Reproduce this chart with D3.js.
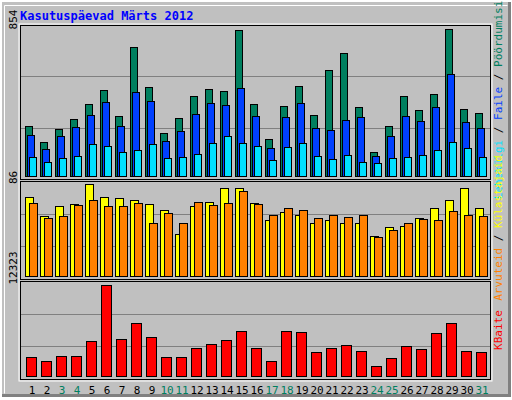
<!DOCTYPE html>
<html><head><meta charset="utf-8">
<script src="https://cdn.jsdelivr.net/npm/d3@7"></script>
<style>body{margin:0;background:#fff}svg{display:block}</style>
</head><body>
<script>
const days = d3.range(1,32);
const weekend = [3,4,10,11,17,18,24,25,31];
const hits  = [292,198,274,332,420,501,350,752,519,251,338,466,507,496,851,420,216,408,525,356,618,717,402,140,292,466,385,478,854,391,367];
const files = [239,157,233,286,356,431,292,490,437,204,262,361,426,414,513,350,163,344,426,280,268,326,344,117,233,350,321,402,595,315,280];
const pages = [111,82,105,117,187,175,140,152,187,105,111,128,192,233,192,175,93,169,192,117,99,122,82,76,105,111,122,152,198,163,111];
const visitors = [74,56,65,67,86,74,73,71,67,62,39,65,69,82,82,68,52,60,57,50,52,50,50,37,46,47,54,64,71,82,64];
const hosts = [68,54,56,66,71,65,65,68,50,59,50,69,66,68,79,67,57,64,62,54,57,55,57,36,43,50,53,52,61,57,56];
const kbytes = [2520,1980,2655,2655,4675,12323,4945,7100,5215,2520,2520,3735,4275,4810,6025,3735,1980,6025,5890,3195,3735,4140,3330,1310,2385,4005,3600,5755,7100,3330,3195];
const maxLabels = ["854","86","12323"];

const W=512,H=400;
const svg=d3.select("body").append("svg").attr("width",W).attr("height",H);
svg.append("rect").attr("width",W).attr("height",H).attr("fill","#fff");
svg.append("rect").attr("x",2).attr("y",2).attr("width",506).attr("height",392).attr("fill","#c0c0c0");
svg.append("path").attr("d","M4.5,393.5V5.5H507.5").attr("stroke","#fff").attr("fill","none");
svg.append("path").attr("d","M2,395.5H509.5V2").attr("stroke","#808080").attr("stroke-width",3).attr("fill","none");

svg.append("text").attr("x",20).attr("y",20).text("Kasutuspäevad Märts 2012")
  .attr("font-family","DejaVu Sans Mono").attr("font-weight","bold").attr("font-size",12).attr("fill","#0000ff");

const x = d3.scaleLinear().domain([1,32]).range([25,490]);
const PL=20, PR=491;
svg.append("rect").attr("x",PL-1).attr("y",24).attr("width",PR-PL+2).attr("height",357).attr("fill","none").attr("stroke","#fff");

function panel(y0,y1,maxv,top){
  const y=d3.scaleLinear().domain([0,maxv]).range([y1,top]);
  const g=svg.append("g");
  g.append("rect").attr("x",PL+0.5).attr("y",y0+0.5).attr("width",PR-PL-1).attr("height",y1-y0+3).attr("fill","#c0c0c0").attr("stroke","#000");
  const step=(y1+ (y1-y0)*0 - y0);
  [1,2].forEach(i=>{const gy=Math.round(y0+(y1+3-y0)*i/3)+0.5;
    g.append("line").attr("x1",PL+1).attr("x2",PR-1).attr("y1",gy).attr("y2",gy).attr("stroke","#808080");});
  return y;
}
const mono="DejaVu Sans Mono";
// panel 1
const y1=panel(25,176,880,25);
const bars=(data,y,off,w,col)=>svg.append("g").selectAll("rect").data(data).join("rect")
  .attr("x",(d,i)=>x(days[i])+off+0.5).attr("y",d=>Math.round(y(d))+0.5).attr("width",w).attr("height",d=>y.range()[0]-Math.round(y(d)))
  .attr("fill",col).attr("stroke","#000");
bars(hits,y1,0,7,"#007f5f"); bars(files,y1,2,7,"#0040ff"); bars(pages,y1,4,7,"#00e0ff");
const y2=panel(181,276,92/0.935*1.0/ (92/ (276-184))*0+ 86*(95/92),181);
bars(visitors,y2,0,8,"#ffff00"); bars(hosts,y2,4,8,"#ff8000");
const y3=panel(281,376,12323*(95/91.4),281);
bars(kbytes,y3,1,10,"#ff0000");

// left max labels
[[854,y1,"854"],[86,y2,"86"],[12323,y3,"12323"]].forEach(([v,y,t])=>{
  svg.append("text").attr("transform",`translate(17,${y(v)}) rotate(-90)`).attr("text-anchor","start")
  .attr("font-family",mono).attr("font-size",11).attr("fill","#000").text(t);
});
// right labels
function rlabel(cy,parts){
  const t=svg.append("text").attr("transform",`translate(502,${cy}) rotate(-90)`).attr("text-anchor","middle")
   .attr("font-family",mono).attr("font-size",11);
  parts.forEach(([s,c])=>t.append("tspan").attr("fill",c).text(s));
}
rlabel(100,[["Lehekülgi","#00e0ff"],[" / ","#000"],["Faile","#0040ff"],[" / ","#000"],["Pöördumisi","#007f5f"]]);
rlabel(228,[["Arvuteid","#ff8000"],[" / ","#000"],["Külastajaid","#ffff00"]]);
rlabel(330,[["KBaite","#ff0000"]]);

// x labels
svg.append("g").selectAll("text").data(days).join("text")
  .attr("x",d=>x(d)+7).attr("y",394).attr("text-anchor","middle")
  .attr("font-family",mono).attr("font-size",11)
  .attr("fill",d=>weekend.includes(d)?"#007f5f":"#000").text(d=>d);
</script>
</body></html>
